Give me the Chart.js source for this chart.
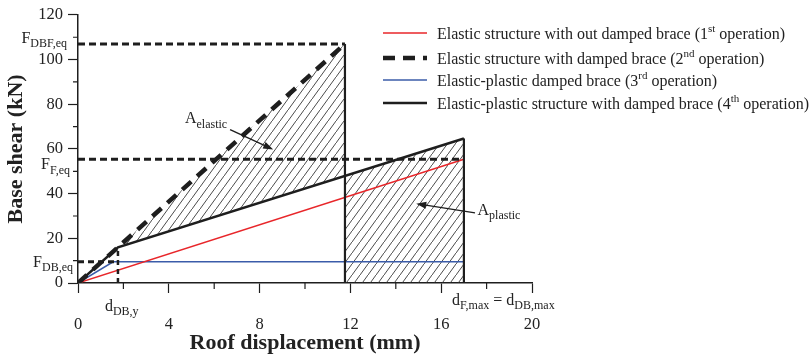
<!DOCTYPE html>
<html>
<head>
<meta charset="utf-8">
<script src="https://cdn.jsdelivr.net/npm/chart.js@4/dist/chart.umd.min.js"></script>
<style>
  html, body { margin: 0; padding: 0; background: #fff; }
  #wrap { width: 809px; height: 359px; }
</style>
</head>
<body>
<div id="wrap"><canvas id="c" width="809" height="359"></canvas></div>
<script>
// Key points of the capacity curves (roof displacement in mm, base shear in kN)
const dYieldBrace = 1.76;      // d_DB,y
const dElasticEnd = 11.76;     // end of the elastic damped-brace branch
const dMax = 17;               // d_F,max = d_DB,max
const shearDBFeq = 107;        // F_DBF,eq
const shearFeq = 55.4;         // F_F,eq
const shearDBeq = 9.5;         // F_DB,eq
const shearAtElasticEnd = 48;  // 4th-operation curve at d = 11.76

// 1st operation: elastic structure without damped brace
const frameDisp = [0, 17];
const frameShear = [0, 55.4];
// 2nd operation: elastic structure with damped brace
const dampedDisp = [0, 11.76];
const dampedShear = [0, 107];
// 3rd operation: elastic-plastic damped brace
const braceDisp = [0, 1.55, 17];
const braceShear = [0, 9.5, 9.5];
// 4th operation: elastic-plastic structure with damped brace
const systemDisp = [0, 1.76, 17];
const systemShear = [0, 16, 64.7];

// Hatched energy areas
const elasticTopDisp = [1.76, 11.76];
const elasticTopShear = [16, 107];
const elasticBottomDisp = [1.76, 11.76];
const elasticBottomShear = [16, 48];
const plasticTopDisp = [11.76, 17];
const plasticTopShear = [48, 64.7];

// Axis ticks
const xTickValues = [0, 4, 8, 12, 16, 20];
const xMinorTicks = [2, 6, 10, 14, 18];
const yTickValues = [0, 20, 40, 60, 80, 100, 120];
const yMinorTicks = [10, 30, 50, 70, 90, 110];

const legendLabels = [
  ['Elastic structure with out damped brace (1', 'st', ' operation)'],
  ['Elastic structure with damped brace (2', 'nd', ' operation)'],
  ['Elastic-plastic damped brace (3', 'rd', ' operation)'],
  ['Elastic-plastic structure with damped brace (4', 'th', ' operation)']
];

const serif = '"Liberation Serif", "Times New Roman", serif';
const ink = '#1e1e1e';
const red = '#e8262a';
const blue = '#3b5ca9';

const pts = (xs, ys) => xs.map((x, i) => ({ x, y: ys[i] }));

// Diagonal hatch used for the energy areas
function hatchPattern() {
  const w = 8, h = 11;
  const c = document.createElement('canvas');
  c.width = w; c.height = h;
  const g = c.getContext('2d');
  g.strokeStyle = '#2a2a2a';
  g.lineWidth = 0.85;
  g.beginPath();
  g.moveTo(-1, h + h / w);
  g.lineTo(w + 1, -h / w);
  g.stroke();
  return g.createPattern(c, 'repeat');
}
const hatch = hatchPattern();

function drawRich(ctx, parts, x, y, align, size) {
  const sizes = { n: size, sub: Math.round(size * 0.72), sup: Math.round(size * 0.68) };
  let total = 0;
  const widths = parts.map(([t, k]) => {
    ctx.font = sizes[k] + 'px ' + serif;
    const w = ctx.measureText(t).width;
    total += w;
    return w;
  });
  let cx = align === 'right' ? x - total : (align === 'center' ? x - total / 2 : x);
  ctx.textAlign = 'left';
  ctx.textBaseline = 'alphabetic';
  parts.forEach(([t, k], i) => {
    ctx.font = sizes[k] + 'px ' + serif;
    const dy = k === 'sub' ? size * 0.28 : (k === 'sup' ? -size * 0.42 : 0);
    ctx.fillText(t, cx, y + dy);
    cx += widths[i];
  });
}

function arrow(ctx, x1, y1, x2, y2) {
  const a = Math.atan2(y2 - y1, x2 - x1);
  const len = 10, half = 3.6;
  ctx.beginPath();
  ctx.moveTo(x1, y1);
  ctx.lineTo(x2 - Math.cos(a) * len * 0.8, y2 - Math.sin(a) * len * 0.8);
  ctx.stroke();
  ctx.beginPath();
  ctx.moveTo(x2, y2);
  ctx.lineTo(x2 - Math.cos(a) * len - Math.sin(a) * half, y2 - Math.sin(a) * len + Math.cos(a) * half);
  ctx.lineTo(x2 - Math.cos(a) * len + Math.sin(a) * half, y2 - Math.sin(a) * len - Math.cos(a) * half);
  ctx.closePath();
  ctx.fill();
}

const annotations = {
  id: 'annotations',
  afterDraw(chart) {
    const { ctx } = chart;
    const xs = chart.scales.x, ys = chart.scales.y;
    const px = v => xs.getPixelForValue(v);
    const py = v => ys.getPixelForValue(v);
    ctx.save();
    ctx.strokeStyle = ink;
    ctx.fillStyle = ink;

    // minor ticks
    ctx.lineWidth = 1.2;
    ctx.beginPath();
    xMinorTicks.forEach(v => { ctx.moveTo(px(v), ys.bottom); ctx.lineTo(px(v), ys.bottom + 6); });
    yMinorTicks.forEach(v => { ctx.moveTo(xs.left, py(v)); ctx.lineTo(xs.left - 5, py(v)); });
    ctx.stroke();

    // force labels on the shear axis
    ctx.fillStyle = '#222';
    drawRich(ctx, [['F', 'n'], ['DBF,eq', 'sub']], 67, py(shearDBFeq) - 1, 'right', 16);
    drawRich(ctx, [['F', 'n'], ['F,eq', 'sub']], 70, py(shearFeq) + 10, 'right', 16);
    drawRich(ctx, [['F', 'n'], ['DB,eq', 'sub']], 73, py(shearDBeq) + 5, 'right', 16);

    // displacement labels
    drawRich(ctx, [['d', 'n'], ['DB,y', 'sub']], px(dYieldBrace) - 13, 311, 'left', 16);
    drawRich(ctx, [['d', 'n'], ['F,max', 'sub'], [' = ', 'n'], ['d', 'n'], ['DB,max', 'sub']], px(dMax) - 12, 305, 'left', 16);

    // area labels with arrows
    drawRich(ctx, [['A', 'n'], ['elastic', 'sub']], px(4.71), py(71.5), 'left', 16);
    drawRich(ctx, [['A', 'n'], ['plastic', 'sub']], px(17.6), py(30.5), 'left', 16);
    ctx.fillStyle = ink;
    ctx.lineWidth = 1.4;
    arrow(ctx, px(6.7), py(68.6), px(8.6), py(59.8));
    arrow(ctx, px(17.49), py(31.4), px(14.9), py(35.5));

    // legend
    const rows = [33, 58, 80, 103];
    chart.data.datasets.slice(0, 4).forEach((ds, i) => {
      ctx.strokeStyle = ds.borderColor;
      ctx.lineWidth = ds.borderWidth;
      ctx.setLineDash(ds.borderDash || []);
      ctx.beginPath();
      ctx.moveTo(383, rows[i]);
      ctx.lineTo(427, rows[i]);
      ctx.stroke();
      ctx.setLineDash([]);
      ctx.fillStyle = '#222';
      const [a, s, b] = legendLabels[i];
      drawRich(ctx, [[a, 'n'], [s, 'sup'], [b, 'n']], 437, rows[i] + 6, 'left', 16);
    });
    ctx.restore();
  }
};

const line = (label, xs, ys, color, width, extra) => Object.assign({
  label, data: pts(xs, ys), showLine: true, borderColor: color, borderWidth: width,
  pointRadius: 0, fill: false, tension: 0
}, extra || {});

new Chart(document.getElementById('c'), {
  type: 'scatter',
  data: {
    datasets: [
      line('Elastic structure with out damped brace', frameDisp, frameShear, red, 1.5, { order: 5 }),
      line('Elastic structure with damped brace', dampedDisp, dampedShear, ink, 4.5, { borderDash: [12, 8], order: 1 }),
      line('Elastic-plastic damped brace', braceDisp, braceShear, blue, 1.5, { order: 5 }),
      line('Elastic-plastic structure with damped brace', systemDisp, systemShear, ink, 2.5, { order: 2 }),
      // hatched areas
      line('A elastic', elasticTopDisp, elasticTopShear, 'rgba(0,0,0,0)', 1, { fill: '+1', backgroundColor: hatch, order: 10 }),
      line('A elastic base', elasticBottomDisp, elasticBottomShear, 'rgba(0,0,0,0)', 1, { order: 10 }),
      line('A plastic', plasticTopDisp, plasticTopShear, 'rgba(0,0,0,0)', 1, { fill: 'origin', backgroundColor: hatch, order: 10 }),
      // reference levels
      line('F DBF,eq', [0, dElasticEnd], [shearDBFeq, shearDBFeq], ink, 3, { borderDash: [7, 4], order: 4 }),
      line('F F,eq', [0, dMax], [shearFeq, shearFeq], ink, 3, { borderDash: [7, 4], order: 4 }),
      line('F DB,eq', [0, dYieldBrace], [shearDBeq, shearDBeq], ink, 3, { borderDash: [6, 4], order: 4 }),
      line('d DB,y', [dYieldBrace, dYieldBrace], [0, 16], ink, 2.5, { borderDash: [5, 4], order: 4 }),
      line('elastic limit', [dElasticEnd, dElasticEnd], [0, shearDBFeq], ink, 2.2, { order: 3 }),
      line('max displacement', [dMax, dMax], [0, 64.7], ink, 2.2, { order: 3 })
    ]
  },
  options: {
    responsive: false,
    animation: false,
    layout: { padding: { top: 12, right: 277, left: 0, bottom: 0 } },
    plugins: { legend: { display: false }, tooltip: { enabled: false } },
    scales: {
      x: {
        type: 'linear', min: 0, max: 20,
        afterBuildTicks: s => { s.ticks = xTickValues.map(v => ({ value: v })); },
        afterFit: s => { s.height = 76; },
        grid: { display: true, drawOnChartArea: false, drawTicks: true, tickLength: 10, tickColor: ink, tickWidth: 1.2 },
        border: { display: true, color: ink, width: 1.5 },
        ticks: { padding: 22, color: '#222', font: { family: serif, size: 16.5 }, maxRotation: 0, autoSkip: false },
        title: { display: true, text: 'Roof displacement (mm)', color: '#222', font: { family: serif, size: 22, weight: 'bold' }, padding: { top: 0, bottom: 2 } }
      },
      y: {
        type: 'linear', min: 0, max: 120,
        afterBuildTicks: s => { s.ticks = yTickValues.map(v => ({ value: v })); },
        afterFit: s => { s.width = 78; },
        grid: { display: true, drawOnChartArea: false, drawTicks: true, tickLength: 10, tickColor: ink, tickWidth: 1.2 },
        border: { display: true, color: ink, width: 1.5 },
        ticks: { padding: 5, color: '#222', font: { family: serif, size: 16.5 }, autoSkip: false },
        title: { display: true, text: 'Base shear (kN)', color: '#222', font: { family: serif, size: 22, weight: 'bold' }, padding: { top: 3, bottom: 0 } }
      }
    }
  },
  plugins: [annotations]
});
</script>
</body>
</html>
